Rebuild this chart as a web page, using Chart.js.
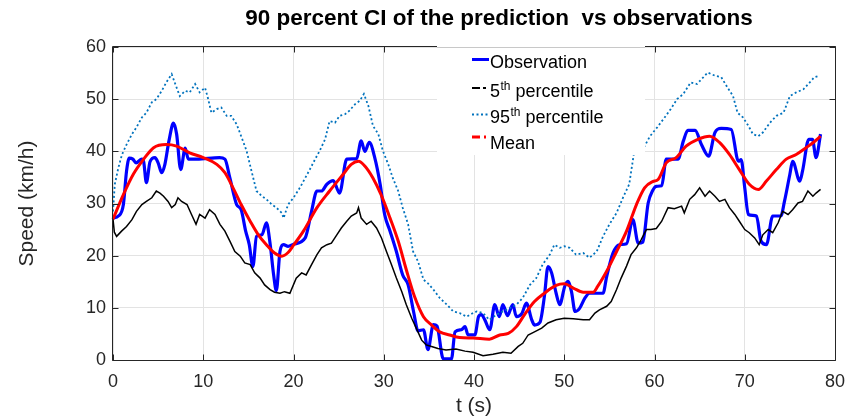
<!DOCTYPE html>
<html>
<head>
<meta charset="utf-8">
<script src="https://cdn.jsdelivr.net/npm/chart.js@4.4.0/dist/chart.umd.min.js"></script>
<style>
html,body{margin:0;padding:0;background:#fff;overflow:hidden}
#wrap{width:846px;height:419px;position:relative}
</style>
</head>
<body>
<div id="wrap"><canvas id="c" width="846" height="419"></canvas></div>
<script>
// ---------- DATA ----------
const titleText = '90 percent CI of the prediction  vs observations';
const xLabel = 't (s)';
const yLabel = 'Speed (km/h)';
const xTicks = [0, 10, 20, 30, 40, 50, 60, 70, 80];
const yTicks = [0, 10, 20, 30, 40, 50, 60];

const obsT = [0,0.6,1.15,1.5,1.8,2.2,2.55,3.2,3.4,3.7,4.1,4.65,5.0,5.4,5.75,6.2,6.7,7.05,7.5,8.0,8.35,9.3,11.8,12.4,12.95,13.7,14.2,14.7,15.1,15.5,15.9,16.5,17.0,17.4,17.8,18.1,18.5,18.9,19.4,20.0,21.3,22.0,22.6,23.1,23.7,24.4,25.1,25.9,27.0,27.5,27.9,28.4,29.0,29.6,30.1,30.7,31.4,32.1,32.7,33.3,33.8,34.4,34.9,35.5,35.9,36.6,37.5,37.9,38.6,39.0,39.35,40.1,40.5,40.8,41.2,41.75,42.3,42.8,43.2,43.7,44.3,44.7,45.3,45.8,46.4,46.7,47.3,47.8,48.2,48.6,49.1,49.5,50.05,50.4,50.8,51.2,51.7,52.3,52.8,54.3,54.7,55.4,56.1,56.9,57.6,58.2,58.7,59.3,59.8,60.2,60.8,61.3,62.6,63.2,63.7,64.5,65.2,66.0,66.7,67.4,68.5,69.3,69.6,70.0,70.4,71.3,71.8,72.4,73.1,74.0,74.4,75.0,75.3,76.1,76.4,77.1,77.5,77.9,78.4];
const obsV = [27.2,27.6,29.8,36.2,38.7,38.5,37.8,38.5,38,34,38,38.8,37.8,35.9,37.5,42,45.4,43.3,36.5,40.6,38.5,38.5,38.8,38.5,34.9,29.8,28.8,24.7,22.1,17.9,23.7,24,26.3,22.4,16.3,13.3,20.8,22.1,21.8,22.2,23.4,28.5,32.4,32.4,33.7,34.4,32,38.5,38.6,42,40,41.7,38.8,33.7,27.9,24.7,20.8,16.3,14.4,9.3,5.6,5.8,2,6.8,6.5,0.2,0.2,5.4,5.8,6.4,4.8,4.8,8.3,8.7,7.7,5.8,10.6,8.3,10.6,8.5,10.6,8.3,8.9,10.9,7.7,6.7,7.2,12.2,17.9,16.7,12.8,10.6,14.1,15.1,13.1,9.3,9.9,11.9,12.8,12.8,16,20.5,22.1,22.3,26.9,22.4,22.6,30.1,32.5,33.3,33.4,38.5,38.5,42,44,44,41.3,39.1,43.6,44.4,44.2,38.1,38.4,33,27.9,27.6,22.8,22.1,27.6,27.6,30.4,35.6,38.1,34.3,36.2,42.3,42.3,38.8,43.3];

const meanT = [0,1.15,2.25,3.4,4.5,5.9,7.05,8.5,10,11.5,12.4,13.3,14.2,15.2,16.1,17.0,17.9,18.7,19.4,20.0,21.1,22.6,24.0,25.5,26.4,27.2,27.9,28.8,29.7,30.7,31.6,32.5,33.4,34.4,35.3,36.2,37.3,38.4,39.9,41.7,42.85,43.8,44.7,45.6,46.7,47.8,49.1,50.0,51.0,52.1,53.2,53.7,54.7,55.8,56.9,58.0,58.9,59.8,60.4,61.3,62.4,63.5,64.8,66.1,67.2,68.3,69.4,70.5,71.5,72.4,73.5,74.6,75.7,76.8,77.6,78.4];
const meanV = [27,31.7,35.6,38.5,40.7,41.3,41,39.7,38.8,37.5,35.9,33,29.8,26.6,24,22.1,20.5,19.9,20.6,22.0,24.7,29.2,32.4,35.6,37.5,38.1,37.2,34.9,31.7,27.2,22.8,17.3,12.2,8.3,6.7,5.4,4.8,4.3,4.2,4.0,4.8,5.1,6.4,8.7,11.2,12.8,14.3,14.6,13.8,13,13,14.1,17,20.8,24.7,29.8,33,34.2,34.6,37.8,38.8,41,42.3,42.9,41.7,39.4,36.5,33.7,32.7,34.3,36.5,38.5,39.4,40.7,41.7,42.9];

const p5T = [0,0.15,0.4,0.95,1.5,2.1,2.6,3.2,3.7,4.3,4.8,5.2,5.6,6.1,6.5,6.9,7.2,7.6,8.2,8.7,9.2,9.6,10.2,10.7,11.3,11.85,12.4,12.95,13.5,14.1,14.6,15.2,15.7,16.3,16.8,17.4,17.9,18.5,19.0,19.6,20.3,20.9,21.4,22.0,22.6,23.1,23.7,24.2,24.8,25.3,25.9,26.4,27.0,27.2,27.5,28.1,28.6,29.2,29.75,30.3,30.85,31.4,32.0,32.5,33.1,33.6,34.2,34.7,35.3,36.0,36.9,38.0,39.0,39.9,41.0,42.1,43.2,44.1,44.9,45.4,46.0,46.7,47.5,48.2,49.1,50.0,51.0,52.1,52.8,53.4,53.9,54.7,55.2,55.8,56.3,56.9,57.4,58.0,58.5,59.1,59.6,60.2,60.8,61.5,62.2,63.0,63.3,63.9,64.45,65.0,65.6,66.1,66.7,67.2,67.8,68.3,68.9,69.4,70.0,70.5,71.1,71.6,72.0,72.6,73.1,73.7,74.2,74.8,75.3,75.9,76.4,77.0,77.55,77.9,78.4];
const p5V = [27,24.5,23.7,24.7,25.6,26.9,28.5,29.8,30.4,31.1,32.4,32,31.4,30.4,29.2,29.8,31.1,30.4,29.8,27.9,26,27.9,27.2,28.8,27.9,26,24.7,22.8,20.8,19.9,18.6,18.3,16.7,15.7,14.4,13.5,13,12.8,13.1,12.8,15.7,16.7,16.3,18.3,20.2,21.5,22.1,22.4,24,25.3,26.6,27.6,28.2,29.2,27.2,26,26.6,25.3,23.4,20.8,18.3,15.7,13.1,10.6,8,6.1,3.8,2.9,2.6,2.2,1.9,2.1,1.7,1.5,0.8,1.1,1.5,1.3,2.6,3.2,4.8,5.4,6.1,7.1,7.7,8.0,7.9,7.7,7.7,9,9.6,10.3,11.2,13.5,15.7,18,20.2,21.5,23,25,25,25.2,26.6,29.2,29,29.5,28.2,30.8,31.7,33,31.4,32.4,31.4,30.4,30.8,29.2,27.9,26.6,25,24.4,23.4,22.1,24,25,24.4,26.3,28.5,27.9,28.8,30.1,30.4,32.4,31.4,32,32.7];

const p95T = [0,0.2,0.6,1.0,1.5,2.1,2.6,3.2,3.7,4.3,4.8,5.4,5.9,6.5,6.9,7.4,8.0,8.5,9.1,9.6,10.2,10.55,10.9,11.5,12.0,12.6,13.1,13.7,14.2,14.8,15.35,15.9,16.5,17.0,17.6,18.1,18.7,18.9,19.4,20.0,20.7,21.3,21.8,22.4,22.9,23.5,24.0,24.6,25.1,25.7,26.2,26.8,27.35,27.8,28.3,28.8,29.4,29.9,30.5,31.0,31.6,32.1,32.7,33.25,33.8,34.4,34.9,35.5,36.2,37.0,37.7,38.4,39.2,39.9,40.3,41.0,41.7,42.5,43.2,43.9,44.7,45.4,46.2,46.9,47.6,48.4,48.9,49.5,50.0,50.6,51.3,52.1,52.8,53.6,54.3,55.0,55.8,56.5,57.2,57.7,58.9,59.5,60.3,61.0,61.8,62.5,63.2,64.0,64.7,65.2,65.9,66.7,67.4,68.1,68.7,69.2,69.8,70.4,70.9,71.5,72.0,72.8,73.5,74.3,75.0,75.7,76.5,77.2,77.7,78.3];
const p95V = [28.5,33.7,36.9,39.4,41.3,43.3,44.6,46.5,47.4,49.4,50,51.6,53.2,54.8,52.9,50.6,51.6,51.3,52.9,51.3,52.2,50,47.4,48.1,48.4,46.8,46.8,45.2,42.9,40.1,36.2,32.4,31.4,30.8,29.8,29.2,28.2,27.2,29.8,31.1,33,34.9,36.5,38.5,40.1,42.3,45.8,45.5,46.8,47.1,47.8,49,49.7,51,48.7,44.9,43.3,40.1,37.5,34.9,32.4,29.2,26,20.8,18.9,15.4,14.7,13.5,11.9,10.6,9.3,9,8.3,9,9.3,9,7.7,8.7,9.3,9.9,10.6,11.9,14.4,15.7,18.3,20.2,22.1,21.5,21.8,21.5,20.2,20.5,19.6,20.8,23.7,26,28.2,31.1,33.7,39.4,41,42.9,44.6,46.2,48.1,50,51,53.2,52.9,53.8,55.1,54.5,54.2,52.2,50.6,47.4,46.5,44.9,43.3,42.9,43.6,45.5,46.8,47.4,50.6,51.3,51.9,53.2,54.2,54.5];

const legendNames = [
  { main: 'Observation', sup: '', rest: '' },
  { main: '5', sup: 'th', rest: ' percentile' },
  { main: '95', sup: 'th', rest: ' percentile' },
  { main: 'Mean', sup: '', rest: '' }
];

// ---------- STYLE ----------
const FONT = "'Liberation Sans', Arial, Helvetica, sans-serif";
const AX = '#262626';
const GRID = '#e3e3e3';
const pts = (t, v) => t.map((x, i) => ({ x: x, y: v[i] }));

const framePlugin = {
  id: 'frame',
  afterDatasetsDraw(chart) {
    const { ctx, chartArea: a, scales } = chart;
    ctx.save();
    ctx.strokeStyle = AX;
    ctx.lineWidth = 1;
    const L = Math.round(a.left) - 0.5, R = Math.round(a.right) + 0.5;
    const T = Math.round(a.top) - 0.5, B = Math.round(a.bottom) + 0.5;
    ctx.beginPath();
    ctx.rect(L, T, R - L, B - T);
    ctx.stroke();
    const tl = 6;
    ctx.beginPath();
    xTicks.forEach(v => {
      const x = Math.round(scales.x.getPixelForValue(v)) + 0.5;
      ctx.moveTo(x, B); ctx.lineTo(x, B - tl);
      ctx.moveTo(x, T); ctx.lineTo(x, T + tl);
    });
    yTicks.forEach(v => {
      const y = Math.round(scales.y.getPixelForValue(v)) + 0.5;
      ctx.moveTo(L, y); ctx.lineTo(L + tl, y);
      ctx.moveTo(R, y); ctx.lineTo(R - tl, y);
    });
    ctx.stroke();

    // legend (white box, no border)
    const lx = 437, ly = 46, lw = 208, lh = 109;
    ctx.fillStyle = '#fff';
    ctx.fillRect(lx, ly, lw, lh);
    ctx.strokeStyle = '#c8c8c8';
    ctx.beginPath(); ctx.moveTo(lx, 47.5); ctx.lineTo(lx + lw, 47.5); ctx.stroke();

    const baselines = [67.5, 96.5, 123, 149];
    const sampleY = [59.5, 88, 114.5, 137];
    const x0 = 472, x1 = 489, tx = 490;
    ctx.lineCap = 'butt';
    ctx.strokeStyle = '#0000ff'; ctx.lineWidth = 3; ctx.setLineDash([]);
    ctx.beginPath(); ctx.moveTo(x0, sampleY[0]); ctx.lineTo(x1, sampleY[0]); ctx.stroke();
    ctx.strokeStyle = '#000'; ctx.lineWidth = 2;
    ctx.beginPath(); ctx.moveTo(x0, sampleY[1]); ctx.lineTo(x0 + 8, sampleY[1]);
    ctx.moveTo(x0 + 11, sampleY[1]); ctx.lineTo(x0 + 14, sampleY[1]); ctx.stroke();
    ctx.strokeStyle = '#0072bd'; ctx.lineWidth = 2; ctx.setLineDash([2, 2.5]);
    ctx.beginPath(); ctx.moveTo(x0, sampleY[2]); ctx.lineTo(x1, sampleY[2]); ctx.stroke();
    ctx.setLineDash([]);
    ctx.strokeStyle = '#ff0000'; ctx.lineWidth = 3;
    ctx.beginPath(); ctx.moveTo(x0, sampleY[3]); ctx.lineTo(x0 + 8, sampleY[3]);
    ctx.moveTo(x0 + 12, sampleY[3]); ctx.lineTo(x0 + 14, sampleY[3]); ctx.stroke();

    ctx.fillStyle = '#000';
    ctx.textBaseline = 'alphabetic';
    ctx.textAlign = 'left';
    legendNames.forEach((n, i) => {
      let x = tx;
      ctx.font = '18px ' + FONT;
      ctx.fillText(n.main, x, baselines[i]);
      x += ctx.measureText(n.main).width;
      if (n.sup) {
        ctx.font = '12px ' + FONT;
        ctx.fillText(n.sup, x + 0.5, baselines[i] - 7);
        x += ctx.measureText(n.sup).width + 0.5;
        ctx.font = '18px ' + FONT;
        ctx.fillText(n.rest, x, baselines[i]);
      }
    });

    // title
    ctx.fillStyle = '#000';
    ctx.font = 'bold 22.5px ' + FONT;
    ctx.textAlign = 'center';
    ctx.fillText(titleText, 499, 25);
    ctx.restore();
  }
};

const chart = new Chart(document.getElementById('c'), {
  type: 'line',
  data: {
    datasets: [
      { label: 'Mean', data: pts(meanT, meanV), borderColor: '#ff0000', borderWidth: 3,
        pointRadius: 0, cubicInterpolationMode: 'monotone', order: 0, clip: 4 },
      { label: '95th percentile', data: pts(p95T, p95V), borderColor: '#0072bd', borderWidth: 1.8,
        borderDash: [2, 2.5], pointRadius: 0, tension: 0, order: 1, clip: 4 },
      { label: '5th percentile', data: pts(p5T, p5V), borderColor: '#000000', borderWidth: 1.5,
        pointRadius: 0, tension: 0, order: 2, clip: 4 },
      { label: 'Observation', data: pts(obsT, obsV), borderColor: '#0000ff', borderWidth: 3.2,
        pointRadius: 0, cubicInterpolationMode: 'monotone', order: 3, clip: 4 }
    ]
  },
  options: {
    responsive: false,
    animation: false,
    devicePixelRatio: 1,
    layout: { padding: { left: 0, right: 11, top: 47, bottom: 0 } },
    plugins: {
      legend: { display: false },
      tooltip: { enabled: false },
      title: { display: false }
    },
    scales: {
      x: {
        type: 'linear', min: 0, max: 80,
        afterFit: s => { s.height = 59; s.paddingLeft = 0; s.paddingRight = 0; },
        afterBuildTicks: s => { s.ticks = xTicks.map(v => ({ value: v })); },
        ticks: { color: AX, font: { family: FONT, size: 18 }, padding: 11, maxRotation: 0, autoSkip: false },
        grid: { color: GRID, drawTicks: false, lineWidth: 1 },
        border: { display: false },
        title: { display: true, text: xLabel, color: AX, font: { family: FONT, size: 21 }, padding: { top: 0, bottom: 0 } }
      },
      y: {
        type: 'linear', min: 0, max: 60,
        afterFit: s => { s.width = 113; s.paddingTop = 0; s.paddingBottom = 0; },
        afterBuildTicks: s => { s.ticks = yTicks.map(v => ({ value: v })); },
        ticks: { color: AX, font: { family: FONT, size: 18 }, padding: 7 },
        grid: { color: GRID, drawTicks: false, lineWidth: 1 },
        border: { display: false },
        title: { display: true, text: yLabel, color: AX, font: { family: FONT, size: 21 }, padding: { top: 15, bottom: 0 } }
      }
    }
  },
  plugins: [framePlugin]
});
</script>
</body>
</html>
